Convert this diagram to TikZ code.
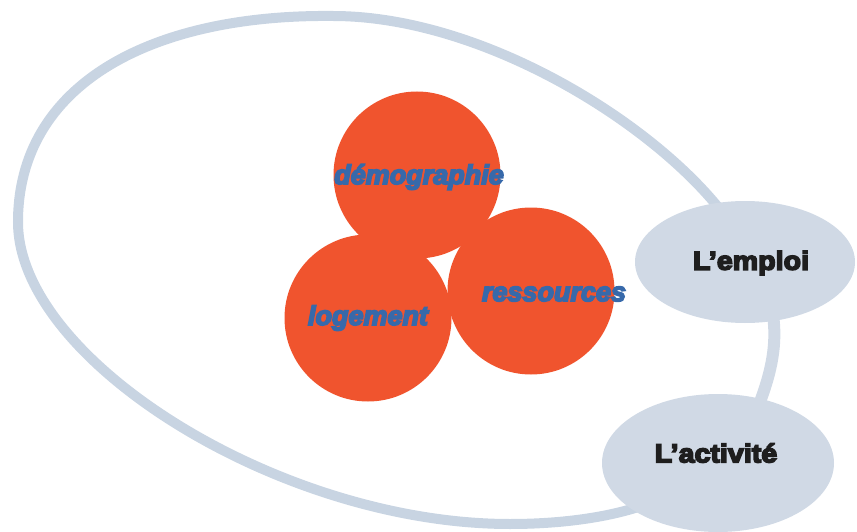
\documentclass[tikz,border=0pt]{standalone}
\usepackage{fontspec}
\setmainfont{Liberation Sans}
\newfontfamily\bluefont[FakeStretch=1.0, FakeBold=6]{Liberation Sans}
\newfontfamily\blackfont[FakeStretch=1.1, FakeBold=6]{Liberation Sans}
\usetikzlibrary{shapes.geometric}
\definecolor{ringcol}{RGB}{200,212,226}
\definecolor{bubblecol}{RGB}{208,217,229}
\definecolor{redball}{RGB}{240,84,46}
\definecolor{bluetxt}{RGB}{55,105,170}
\definecolor{darktxt}{RGB}{30,30,30}
\tikzset{
  ball/.style={circle, fill=redball, minimum size=167pt, inner sep=0pt},
  bluelabel/.style={text=bluetxt, font=\bluefont\bfseries\itshape\fontsize{27}{27}\selectfont, inner sep=0pt},
  bubble/.style={ellipse, fill=bubblecol, inner sep=0pt},
  bubblelabel/.style={text=darktxt, font=\blackfont\bfseries\fontsize{26}{26}\selectfont, inner sep=0pt},
  ringline/.style={draw=ringcol, line width=10pt, line cap=round},
  linkline/.style={draw=bubblecol, line width=12pt}
}
\begin{document}
\begin{tikzpicture}[x=1pt,y=-1pt]
\useasboundingbox (0,0) rectangle (857,532);
% outer ring
\coordinate (r0) at (722,212);
\coordinate (r1) at (333,16);
\coordinate (r2) at (18,222);
\coordinate (r3) at (510,524);
\coordinate (r4) at (652,502);
\draw[ringline] (r0) .. controls (650,120) and (480,16) .. (r1)
  .. controls (150,14) and (18,85) .. (r2)
  .. controls (18,360) and (280,524) .. (r3)
  .. controls (570,524) and (620,515) .. (r4);
% bubbles
\node[bubble, minimum width=220pt, minimum height=122pt] (emp) at (745,262) {};
\node[bubble, minimum width=232pt, minimum height=138pt] (act) at (718,463) {};
\coordinate (empb) at (773,315);
\coordinate (actt) at (760,402);
\draw[linkline] (empb) .. controls (778,350) and (768,380) .. (actt);
\node[bubblelabel] (empl) at (751,263) {L’emploi};
\node[bubblelabel] (actl) at (716,453) {L’activité};
% red balls
\node[ball] (log) at (368,318) {};
\node[ball] (res) at (531,291) {};
\node[ball] (dem) at (417,175) {};
\node[bluelabel] (demt) at (419,177) {démographie};
\node[bluelabel] (logt) at (368,318) {logement};
\node[bluelabel] (rest) at (554,294) {ressources};
\end{tikzpicture}
\end{document}
